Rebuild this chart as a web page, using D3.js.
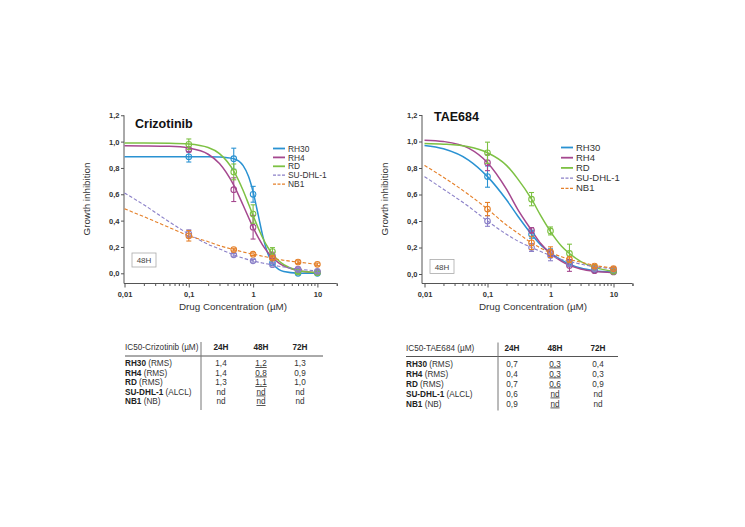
<!DOCTYPE html>
<html><head><meta charset="utf-8">
<script src="https://cdn.jsdelivr.net/npm/d3@7"></script>
<style>
html,body{margin:0;padding:0;background:#fff;}
svg{display:block;font-family:"Liberation Sans",Arial,sans-serif;}
</style></head>
<body>
<svg id="c" width="745" height="527"></svg>
<script>
// ---------------- DATA ----------------
const seriesNames = ["RH30","RH4","RD","SU-DHL-1","NB1"];
const seriesDashed = [false,false,false,true,true];
const pointConc = [0.1, 0.5, 1, 2, 5, 10];
const xTickValues = [0.01, 0.1, 1, 10];
const xTickLabels = ["0,01","0,1","1","10"];
const yTickValues = [0, 0.2, 0.4, 0.6, 0.8, 1.0, 1.2];
const yTickLabels = ["0,0","0,2","0,4","0,6","0,8","1,0","1,2"];

// Crizotinib (48H)
const crizCurveConc = [0.01,0.02,0.05,0.1,0.2,0.3,0.5,0.7,0.85,1,1.2,1.4,1.7,2,2.5,3,5,10];
const crizCurveRH30 = [0.885,0.885,0.885,0.885,0.885,0.883,0.870,0.817,0.735,0.618,0.443,0.292,0.148,0.077,0.029,0.013,0.001,0.0];
const crizCurveRH4  = [0.968,0.967,0.964,0.951,0.904,0.834,0.670,0.517,0.424,0.348,0.272,0.216,0.158,0.120,0.080,0.057,0.021,0.005];
const crizCurveRD   = [0.990,0.990,0.988,0.982,0.955,0.909,0.776,0.629,0.526,0.438,0.344,0.272,0.196,0.146,0.095,0.066,0.022,0.005];
const crizCurveSU   = [0.610,0.520,0.390,0.298,0.220,0.185,0.140,0.115,0.103,0.095,0.085,0.078,0.070,0.063,0.054,0.048,0.032,0.018];
const crizCurveNB1  = [0.490,0.430,0.347,0.285,0.240,0.210,0.180,0.162,0.152,0.145,0.137,0.130,0.122,0.115,0.105,0.099,0.085,0.068];
const crizPtsRH30 = [0.885,0.870,0.600,0.080,0.000,0.000];
const crizErrRH30 = [0.040,0.080,0.060,0.020,0.010,0.010];
const crizPtsRH4  = [0.940,0.635,0.350,0.130,0.030,0.010];
const crizErrRH4  = [0.020,0.090,0.090,0.030,0.010,0.010];
const crizPtsRD   = [0.980,0.770,0.450,0.165,0.010,0.005];
const crizErrRD   = [0.040,0.060,0.070,0.030,0.010,0.010];
const crizPtsSU   = [0.300,0.140,0.095,0.065,0.030,0.015];
const crizErrSU   = [0.030,0.010,0.010,0.010,0.010,0.010];
const crizPtsNB1  = [0.285,0.180,0.145,0.115,0.085,0.068];
const crizErrNB1  = [0.040,0.010,0.010,0.010,0.010,0.010];

// TAE684 (48H)
const taeCurveConc = [0.01,0.02,0.05,0.1,0.2,0.3,0.5,0.7,1,1.5,2,3,5,10];
const taeCurveRH30 = [0.970,0.945,0.860,0.735,0.560,0.440,0.300,0.220,0.160,0.105,0.075,0.045,0.025,0.015];
const taeCurveRH4  = [1.010,1.000,0.950,0.840,0.640,0.490,0.330,0.230,0.155,0.095,0.065,0.038,0.020,0.010];
const taeCurveRD   = [0.985,0.980,0.960,0.915,0.820,0.720,0.565,0.440,0.320,0.210,0.155,0.095,0.050,0.020];
const taeCurveSU   = [0.735,0.640,0.510,0.400,0.300,0.250,0.200,0.170,0.140,0.110,0.095,0.075,0.055,0.040];
const taeCurveNB1  = [0.820,0.730,0.600,0.490,0.370,0.310,0.235,0.195,0.160,0.130,0.110,0.090,0.065,0.045];
const taePtsRH30 = [0.735,0.300,0.160,0.080,0.030,0.020];
const taeErrRH30 = [0.080,0.030,0.030,0.020,0.010,0.010];
const taePtsRH4  = [0.840,0.330,0.155,0.065,0.025,0.015];
const taeErrRH4  = [0.060,0.020,0.030,0.045,0.010,0.010];
const taePtsRD   = [0.915,0.565,0.325,0.155,0.050,0.020];
const taeErrRD   = [0.080,0.050,0.030,0.070,0.010,0.010];
const taePtsSU   = [0.400,0.200,0.140,0.080,0.040,0.035];
const taeErrSU   = [0.040,0.030,0.040,0.020,0.010,0.010];
const taePtsNB1  = [0.490,0.235,0.165,0.110,0.060,0.040];
const taeErrNB1  = [0.050,0.050,0.040,0.020,0.010,0.010];

// IC50 tables
const tableCols = ["24H","48H","72H"];
const tableRowNames = ["RH30","RH4","RD","SU-DHL-1","NB1"];
const tableRowTypes = ["(RMS)","(RMS)","(RMS)","(ALCL)","(NB)"];
const crizIC50 = [["1,4","1,2","1,3"],["1,4","0,8","0,9"],["1,3","1,1","1,0"],["nd","nd","nd"],["nd","nd","nd"]];
const taeIC50  = [["0,7","0,3","0,4"],["0,4","0,3","0,3"],["0,7","0,6","0,9"],["0,6","nd","nd"],["0,9","nd","nd"]];

// ---------------- STYLE ----------------
const colors = ["#2a92d2","#a5488f","#7dc143","#8b80c8","#e5802a"];
const svg = d3.select("#c");

function drawChart(cfg){
  const g = svg.append("g");
  const x = d3.scaleLog().domain([0.01,20]).range([cfg.x0, cfg.x0 + Math.log10(2000)*cfg.dec]);
  const y = d3.scaleLinear().domain([0,1.2]).range([cfg.y0, cfg.y0 - 1.2*cfg.ppu]);
  const axisCol = "#555";

  // x axis
  const xa = g.append("g").attr("transform",`translate(0,${cfg.xAxisY})`)
    .call(d3.axisBottom(x).tickValues(xTickValues).tickSize(4).tickFormat((d,i)=>xTickLabels[i]));
  const minors = [];
  [0.01,0.1,1,10].forEach(b=>{for(let k=2;k<=9;k++){const v=b*k; if(v<=20) minors.push(v);}});
  minors.push(20);
  const xm = g.append("g").attr("transform",`translate(0,${cfg.xAxisY})`)
    .call(d3.axisBottom(x).tickValues(minors).tickSize(2.5).tickFormat(""));
  xm.select(".domain").remove();
  xa.select(".domain").attr("d",`M${cfg.yAxisX},0H${x.range()[1]}`);
  [xa,xm].forEach(a=>{a.selectAll("line").attr("stroke",axisCol);a.select(".domain").attr("stroke",axisCol);});
  xa.selectAll("text").attr("font-size",7.5).attr("font-weight","bold").attr("fill","#333").attr("dy","0.85em");

  // y axis
  const ya = g.append("g").attr("transform",`translate(${cfg.yAxisX},0)`)
    .call(d3.axisLeft(y).tickValues(yTickValues).tickSize(3).tickFormat((d,i)=>yTickLabels[i]));
  ya.select(".domain").attr("d",`M0,${y(1.2)}V${cfg.xAxisY}`).attr("stroke",axisCol);
  ya.selectAll("line").attr("stroke",axisCol);
  ya.selectAll("text").attr("font-size",7.5).attr("font-weight","bold").attr("fill","#333").attr("x",-4.5);

  // axis titles
  g.append("text").attr("x",cfg.xTitleX).attr("y",310).attr("text-anchor","middle")
    .attr("font-size",9.8).attr("fill","#333").text("Drug Concentration (\u00b5M)");
  g.append("text").attr("transform",`translate(${cfg.yTitleX},199) rotate(-90)`).attr("text-anchor","middle")
    .attr("font-size",9.8).attr("fill","#333").text("Growth inhibition");

  // chart title
  g.append("text").attr("x",cfg.titleX).attr("y",cfg.titleY).attr("font-size",12.5)
    .attr("font-weight","bold").attr("fill","#111").text(cfg.title);

  // 48H box
  g.append("rect").attr("x",cfg.boxX).attr("y",cfg.boxY).attr("width",24).attr("height",14)
    .attr("fill","#fff").attr("stroke","#aaa").attr("stroke-width",0.8);
  g.append("text").attr("x",cfg.boxX+12).attr("y",cfg.boxY+10.3).attr("text-anchor","middle")
    .attr("font-size",8).attr("fill","#444").text("48H");

  const line = d3.line().x(d=>x(d[0])).y(d=>y(d[1])).curve(d3.curveMonotoneX);

  // curves
  cfg.curves.forEach((c,i)=>{
    g.append("path").datum(cfg.curveConc.map((xc,j)=>[xc,c[j]]))
      .attr("d",line).attr("fill","none").attr("stroke",colors[i])
      .attr("stroke-width",seriesDashed[i]?1.1:1.5)
      .attr("stroke-dasharray",seriesDashed[i]?"3.5,2":null);
  });
  // points + error bars
  cfg.pts.forEach((p,i)=>{
    const e = cfg.errs[i];
    p.forEach((v,j)=>{
      const cx = x(pointConc[j]);
      const gp = g.append("g").attr("stroke",colors[i]).attr("stroke-width",1.1).attr("fill","none");
      gp.append("line").attr("x1",cx).attr("x2",cx).attr("y1",y(v+e[j])).attr("y2",y(v-e[j]));
      gp.append("line").attr("x1",cx-2.5).attr("x2",cx+2.5).attr("y1",y(v+e[j])).attr("y2",y(v+e[j]));
      gp.append("line").attr("x1",cx-2.5).attr("x2",cx+2.5).attr("y1",y(v-e[j])).attr("y2",y(v-e[j]));
      gp.append("circle").attr("cx",cx).attr("cy",y(v)).attr("r",2.8);
    });
  });

  // legend
  seriesNames.forEach((n,i)=>{
    const ly = cfg.legY + i*cfg.legDy;
    g.append("line").attr("x1",cfg.legX).attr("x2",cfg.legX+12).attr("y1",ly).attr("y2",ly)
      .attr("stroke",colors[i]).attr("stroke-width",seriesDashed[i]?1.2:1.8)
      .attr("stroke-dasharray",seriesDashed[i]?"3,1.5":null);
    g.append("text").attr("x",cfg.legX+15).attr("y",ly+3.1).attr("font-size",cfg.legFont).attr("fill","#333").text(n);
  });
}

drawChart({x0:124.5, dec:64.3, y0:273.3, ppu:131.7, xAxisY:283.5, yAxisX:124,
  title:"Crizotinib", titleX:135, titleY:128, xTitleX:233, yTitleX:90,
  boxX:132, boxY:253, legX:273, legY:148.5, legDy:8.9, legFont:8.4,
  curveConc:crizCurveConc,
  curves:[crizCurveRH30,crizCurveRH4,crizCurveRD,crizCurveSU,crizCurveNB1],
  pts:[crizPtsRH30,crizPtsRH4,crizPtsRD,crizPtsSU,crizPtsNB1],
  errs:[crizErrRH30,crizErrRH4,crizErrRD,crizErrSU,crizErrNB1]});

drawChart({x0:424.5, dec:63, y0:274, ppu:132.5, xAxisY:283.5, yAxisX:422,
  title:"TAE684", titleX:434, titleY:121, xTitleX:533, yTitleX:388,
  boxX:430, boxY:259.5, legX:561, legY:147.5, legDy:10.2, legFont:9.5,
  curveConc:taeCurveConc,
  curves:[taeCurveRH30,taeCurveRH4,taeCurveRD,taeCurveSU,taeCurveNB1],
  pts:[taePtsRH30,taePtsRH4,taePtsRD,taePtsSU,taePtsNB1],
  errs:[taeErrRH30,taeErrRH4,taeErrRD,taeErrSU,taeErrNB1]});

function drawTable(cfg){
  const g = svg.append("g").attr("fill","#222");
  g.append("text").attr("x",cfg.x).attr("y",cfg.headY).attr("font-size",8.2).attr("fill","#333").text(cfg.head);
  tableCols.forEach((c,k)=>{
    g.append("text").attr("x",cfg.colX[k]).attr("y",cfg.headY).attr("text-anchor","middle")
      .attr("font-size",8.2).attr("font-weight","bold").text(c);
  });
  g.append("line").attr("x1",cfg.x).attr("x2",cfg.lineEnd).attr("y1",cfg.headY+6).attr("y2",cfg.headY+6)
    .attr("stroke","#555").attr("stroke-width",1);
  g.append("line").attr("x1",cfg.vX).attr("x2",cfg.vX).attr("y1",cfg.headY-8).attr("y2",cfg.headY+60)
    .attr("stroke","#777").attr("stroke-width",1);
  tableRowNames.forEach((n,r)=>{
    const yy = cfg.headY + 16 + r*cfg.dy;
    const t = g.append("text").attr("x",cfg.x).attr("y",yy).attr("font-size",8.2);
    t.append("tspan").attr("font-weight","bold").text(n);
    t.append("tspan").attr("fill","#333").text(" " + tableRowTypes[r]);
    cfg.vals[r].forEach((v,k)=>{
      g.append("text").attr("x",cfg.colX[k]).attr("y",yy).attr("text-anchor","middle")
        .attr("font-size",8.2).attr("fill","#333")
        .attr("text-decoration",k===1?"underline":null).text(v);
    });
  });
}
drawTable({x:125, headY:350, colX:[221,261,300], lineEnd:323, vX:201, dy:9.5,
  head:"IC50-Crizotinib (\u00b5M)", vals:crizIC50});
drawTable({x:406, headY:350.5, colX:[512,555,598], lineEnd:618, vX:498, dy:10,
  head:"IC50-TAE684 (\u00b5M)", vals:taeIC50});
</script>
</body></html>
